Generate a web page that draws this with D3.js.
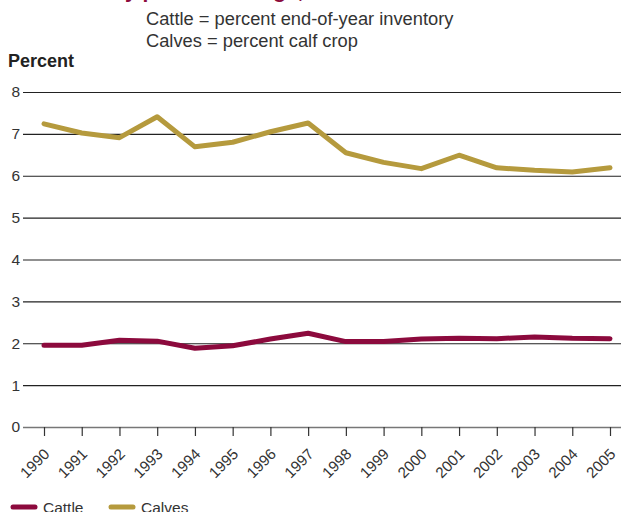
<!DOCTYPE html>
<html><head><meta charset="utf-8">
<script src="https://cdn.jsdelivr.net/npm/d3@7"></script>
<style>body{margin:0;background:#fff;}svg{display:block;font-family:"Liberation Sans",Arial,sans-serif;}</style>
</head><body>
<svg id="c" width="621" height="512"></svg>
<script>
const years = ["1990","1991","1992","1993","1994","1995","1996","1997","1998","1999","2000","2001","2002","2003","2004","2005"];
const cattle = [1.95,1.95,2.07,2.05,1.88,1.94,2.10,2.24,2.04,2.04,2.10,2.12,2.11,2.15,2.12,2.11];
const calves = [7.24,7.02,6.91,7.41,6.69,6.80,7.05,7.26,6.55,6.32,6.17,6.49,6.19,6.13,6.09,6.19];
const yTicks = [0,1,2,3,4,5,6,7,8];
const seriesNames = ["Cattle","Calves"];
const colors = ["#8c0a3d","#b59a3d"];

const svg = d3.select("#c");
const x = d3.scalePoint().domain(years).range([44,610]);
const y = d3.scaleLinear().domain([0,8]).range([427,92]);

// title (clipped at top)
const tPre = svg.append("text").attr("font-size",21).attr("font-weight","bold").text("Death loss b");
const w = tPre.node().getComputedTextLength();
tPre.remove();
svg.append("text").attr("x",125-w).attr("y",-2).attr("font-size",21).attr("font-weight","bold")
  .attr("fill","#8c0a3d").text("Death loss by percent change, 1990–2005");

svg.append("text").attr("x",146).attr("y",25).attr("font-size",18.3).attr("fill","#333")
  .text("Cattle = percent end-of-year inventory");
svg.append("text").attr("x",146).attr("y",47).attr("font-size",18.3).attr("fill","#333")
  .text("Calves = percent calf crop");
svg.append("text").attr("x",8).attr("y",67).attr("font-size",18).attr("font-weight","bold").attr("fill","#222")
  .text("Percent");

// y gridlines and labels
const ya = svg.append("g").attr("transform","translate(23,0)")
  .call(d3.axisRight(y).tickValues(yTicks).tickSize(598).tickFormat(d3.format("d")));
ya.select(".domain").remove();
ya.selectAll(".tick line").attr("stroke",d=>d===0?"#777":"#222").attr("stroke-width",d=>d===0?1.5:1.2);
ya.selectAll(".tick text").attr("x",-3).attr("text-anchor","end").attr("font-size",15.5).attr("fill","#333")
  .attr("font-family","Liberation Sans, Arial, sans-serif");

// x axis
const xa = svg.append("g").attr("transform","translate(0,427)")
  .call(d3.axisBottom(x).tickSize(9).tickSizeOuter(0));
xa.select(".domain").remove();
xa.selectAll(".tick line").attr("stroke","#333").attr("stroke-width",1.2);
xa.selectAll(".tick text").attr("font-size",15.2).attr("fill","#333")
  .attr("font-family","Liberation Sans, Arial, sans-serif")
  .attr("text-anchor","end").attr("y",0).attr("dy",0).attr("dx",0)
  .attr("transform","translate(6,28) rotate(-45)");

// lines
const line = d3.line().x((d,i)=>x(years[i])).y(d=>y(d));
[cattle,calves].forEach((s,k)=>{
  svg.append("path").datum(s).attr("d",line).attr("fill","none")
    .attr("stroke",colors[k]).attr("stroke-width",5).attr("stroke-linejoin","round").attr("stroke-linecap","round");
});

// legend
const lx = [13,111];
seriesNames.forEach((n,k)=>{
  svg.append("line").attr("x1",lx[k]).attr("x2",lx[k]+22).attr("y1",507).attr("y2",507)
    .attr("stroke",colors[k]).attr("stroke-width",5).attr("stroke-linecap","round");
  svg.append("text").attr("x",lx[k]+30).attr("y",513).attr("font-size",15.5).attr("fill","#333").text(n);
});
</script>
</body></html>
